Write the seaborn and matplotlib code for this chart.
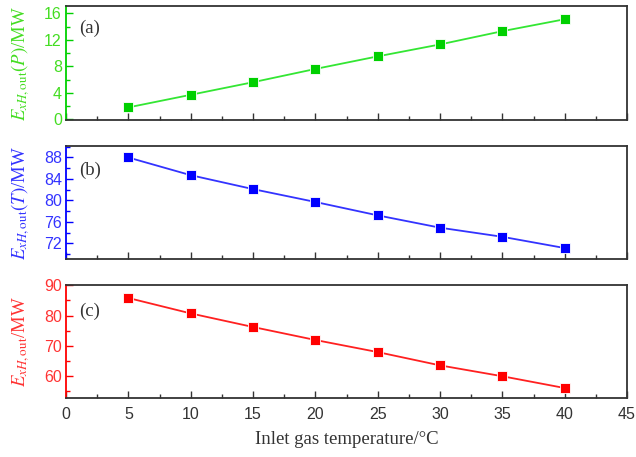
import numpy as np
import pandas as pd
import matplotlib
matplotlib.use("Agg")
import matplotlib.pyplot as plt
from matplotlib.ticker import MultipleLocator
import seaborn as sns

temps = [5, 10, 15, 20, 25, 30, 35, 40]
ex_p = [1.8, 3.7, 5.6, 7.6, 9.5, 11.3, 13.3, 15.1]
ex_t = [88.0, 84.7, 82.1, 79.7, 77.2, 74.9, 73.2, 71.1]
ex_total = [85.8, 80.7, 76.2, 71.9, 67.9, 63.5, 59.9, 56.0]

panel_labels = ["(a)", "(b)", "(c)"]
ylabels = [r"$E_{xH,\mathrm{out}}(P)$/MW", r"$E_{xH,\mathrm{out}}(T)$/MW", r"$E_{xH,\mathrm{out}}$/MW"]
xlabel = "Inlet gas temperature/\u00b0C"

sns.set_theme(style="ticks")
plt.rcParams["font.family"] = ["Liberation Sans", "DejaVu Sans"]
plt.rcParams["mathtext.fontset"] = "stix"

fig = plt.figure(figsize=(6.36, 4.57), dpi=100)
left, right = 66 / 636, 627 / 636
boxes = [(6, 120), (145.7, 259.3), (285.3, 398.3)]
series = [ex_p, ex_t, ex_total]
colors = ["#00D000", "#0000FF", "#FF0000"]
line_colors = ["#33E633", "#3333FF", "#FF2020"]
label_colors = ["#44DD22", "#3333FF", "#FF3333"]
ylims = [(-0.1, 17.1), (69.0, 90.2), (52.6, 90.0)]
ymajor = [4, 4, 10]
yminor = [2, 2, 5]
ytick_ranges = [(0, 16), (72, 88), (60, 90)]
label_y = [0.80, 0.786, 0.767]
dark = "#333333"

for i in range(3):
    top, bot = boxes[i]
    ax = fig.add_axes([left, 1 - bot / 457, right - left, (bot - top) / 457])
    df = pd.DataFrame({"T": temps, "v": series[i]})
    sns.lineplot(data=df, x="T", y="v", ax=ax, color=line_colors[i], linewidth=1.3,
                 marker="s", markersize=7, markerfacecolor=colors[i],
                 markeredgecolor="white", markeredgewidth=0.6)
    ax.set_xlim(0, 45)
    ax.set_ylim(*ylims[i])
    ax.xaxis.set_major_locator(MultipleLocator(5))
    ax.xaxis.set_minor_locator(MultipleLocator(2.5))
    lo, hi = ytick_ranges[i]
    ax.set_yticks(np.arange(lo, hi + 0.01, ymajor[i]))
    ax.yaxis.set_minor_locator(MultipleLocator(yminor[i]))
    ax.tick_params(axis="both", which="both", direction="in")
    ax.tick_params(axis="x", which="major", length=5, width=1.0, color=dark, labelsize=11.5, labelcolor=dark, pad=6)
    ax.tick_params(axis="x", which="minor", length=3, width=1.0, color=dark)
    ax.tick_params(axis="y", which="major", length=5, width=1.0, color=colors[i], labelsize=11.5,
                   labelcolor=label_colors[i], pad=3)
    ax.tick_params(axis="y", which="minor", length=3, width=1.0, color=colors[i])
    for s in ["top", "right", "bottom"]:
        ax.spines[s].set_visible(True)
        ax.spines[s].set_color(dark)
        ax.spines[s].set_linewidth(1.3)
    ax.spines["left"].set_color(colors[i])
    ax.spines["left"].set_linewidth(1.3)
    ax.set_ylabel(ylabels[i], fontsize=13.5, color=label_colors[i], family="Liberation Serif", labelpad=4)
    ax.yaxis.set_label_coords(-0.06, 0.5)
    ax.text(0.023, label_y[i], panel_labels[i], transform=ax.transAxes, fontsize=13.5,
            family="Liberation Serif", color=dark, va="center", ha="left")
    if i < 2:
        ax.set_xlabel("")
        ax.tick_params(axis="x", labelbottom=False)
    else:
        ax.set_xlabel(xlabel, fontsize=13.5, family="Liberation Serif", color=dark, labelpad=7)

fig.savefig("out.png", dpi=100)
